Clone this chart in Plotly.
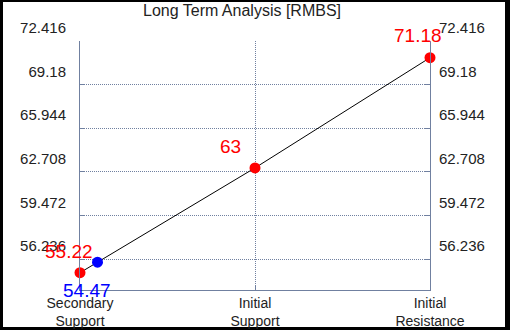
import plotly.graph_objects as go

categories = ["Secondary<br>Support", "Initial<br>Support", "Initial<br>Resistance"]
levels = [55.22, 63.0, 71.18]
level_labels = ["55.22", "63", "71.18"]
current_price = 54.47
current_pos = 0.1
tick_vals = [56.236, 59.472, 62.708, 65.944, 69.18, 72.416]
tick_text = ["56.236", "59.472", "62.708", "65.944", "69.18", "72.416"]
y_range = [53.936, 72.42]
title = "Long Term Analysis [RMBS]"

AX = "#7080a0"
FONT = "Liberation Sans, Arial, sans-serif"

xs = list(range(len(categories)))
# position of the current-price marker on the line between first two levels
cur_y = levels[0] + (levels[1] - levels[0]) * (current_pos - xs[0]) / (xs[1] - xs[0])

fig = go.Figure()
fig.add_trace(go.Scatter(x=xs, y=levels, mode="lines+markers",
                         line=dict(color="black", width=1),
                         marker=dict(color="red", size=11),
                         cliponaxis=False, showlegend=False, hoverinfo="skip"))
fig.add_trace(go.Scatter(x=[current_pos], y=[cur_y], mode="markers",
                         marker=dict(color="blue", size=11),
                         cliponaxis=False, showlegend=False, hoverinfo="skip"))
fig.add_trace(go.Scatter(x=[xs[0]], y=[levels[0]], yaxis="y2", mode="markers",
                         marker=dict(opacity=0), showlegend=False, hoverinfo="skip"))

shifts = [(-11, 21), (-25, 21), (-12, 22)]
for x, y, t, (dx, dy) in zip(xs, levels, level_labels, shifts):
    fig.add_annotation(x=x, y=y, text=t, showarrow=False, xshift=dx, yshift=dy,
                       font=dict(color="red", size=19, family=FONT))
fig.add_annotation(x=current_pos, y=cur_y, text=f"{current_price:.2f}", showarrow=False,
                   xshift=-11, yshift=-28, font=dict(color="blue", size=19, family=FONT))

yax = dict(range=y_range, tickvals=tick_vals, ticktext=tick_text,
           showgrid=True, gridcolor=AX, griddash="1px,1px", gridwidth=1,
           showline=True, linecolor=AX, linewidth=1,
           ticks="inside", ticklen=5, tickcolor=AX,
           tickfont=dict(size=15, color="#222222", family=FONT),
           ticklabelshift=-13, zeroline=False, automargin=False)

fig.update_layout(
    width=510, height=330,
    margin=dict(l=80, r=80, t=41, b=40, autoexpand=False),
    paper_bgcolor="black", plot_bgcolor="white",
    font=dict(family=FONT),
    title=dict(text=title, x=0.4745, xref="container", xanchor="center",
               y=0.968, yref="container", yanchor="middle", automargin=False,
               font=dict(size=16, color="#222222", family=FONT)),
    xaxis=dict(range=[xs[0], xs[-1]], tickvals=xs, ticktext=categories,
               showgrid=True, gridcolor=AX, griddash="1px,1px", gridwidth=1,
               showline=True, linecolor=AX, linewidth=1,
               ticks="inside", ticklen=5, tickcolor=AX,
               tickfont=dict(size=14, color="#222222", family=FONT),
               ticklabelstandoff=0,
               zeroline=False, automargin=False),
    yaxis=dict(**yax, side="left", ticklabelstandoff=10),
    yaxis2=dict(**yax, side="right", overlaying="y", ticklabelstandoff=5),
    shapes=[dict(type="rect", xref="paper", yref="paper", layer="below",
                 x0=(3 - 80) / 350, x1=(505 - 80) / 350,
                 y0=(290 - 327) / 249, y1=(290 - 2) / 249,
                 fillcolor="white", line=dict(width=0))],
)

fig.write_html("out.html", config={"displayModeBar": False},
               post_script="document.body.style.margin='0';")
